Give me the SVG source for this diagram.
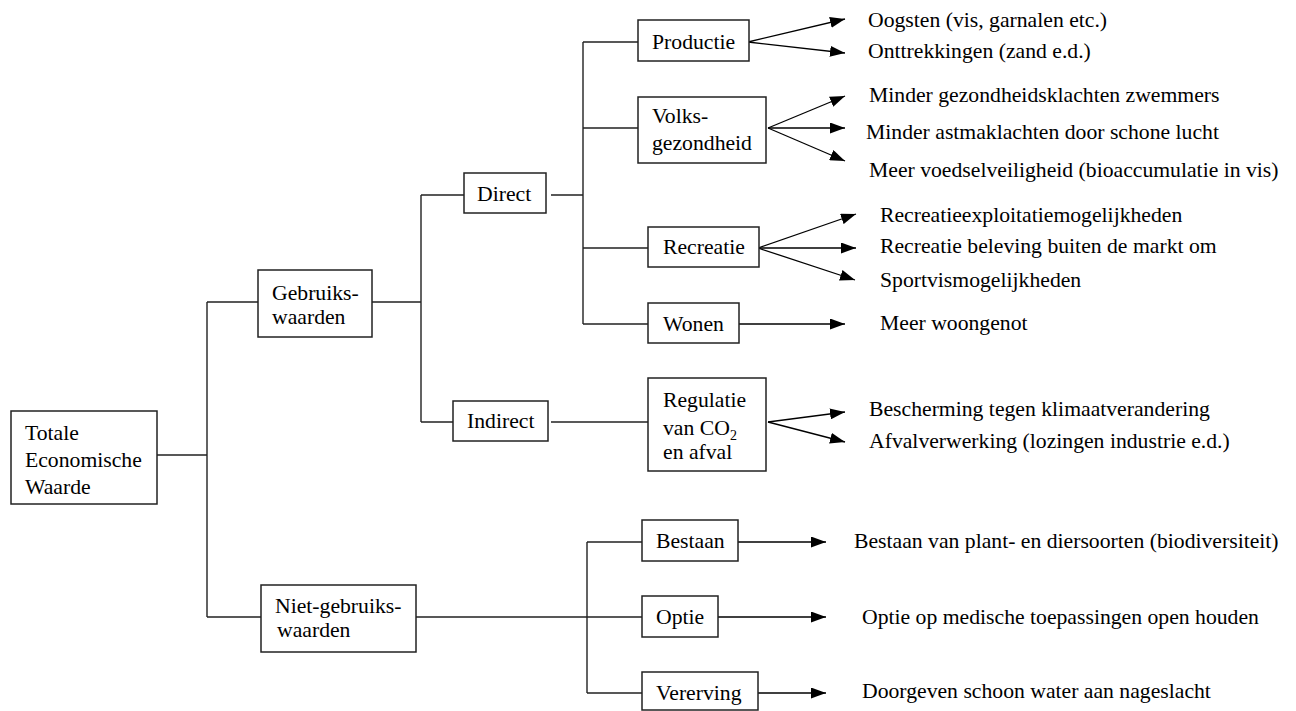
<svg xmlns="http://www.w3.org/2000/svg" width="1296" height="711" viewBox="0 0 1296 711">
<defs>
<marker id="ah" markerUnits="userSpaceOnUse" markerWidth="15" markerHeight="11" refX="15" refY="5.5" orient="auto">
<path d="M0,0 L15,5.5 L0,11 z" fill="#000"/>
</marker>
</defs>
<rect width="1296" height="711" fill="#fff"/>
<g id="connectors" fill="none" stroke="#222" stroke-width="1.4">
<path d="M152,455 H207 M207,302 V617 M207,302 H258 M207,617 H261"/>
<path d="M366,302 H421 M421,195 V422 M421,195 H464 M421,422 H453"/>
<path d="M551,195 H583 M583,42 V324 M583,42 H638 M583,128 H638 M583,248 H648 M583,324 H648"/>
<path d="M551,422 H648"/>
<path d="M413,617 H642 M587,542 V693 M587,542 H642 M587,693 H642"/>
<g stroke="#000" stroke-width="1.3" marker-end="url(#ah)">
<line x1="748" y1="42" x2="845" y2="19"/>
<line x1="748" y1="42" x2="845" y2="53"/>
<line x1="768" y1="128" x2="845" y2="96"/>
<line x1="768" y1="128" x2="845" y2="128"/>
<line x1="768" y1="128" x2="845" y2="161"/>
<line x1="758" y1="248" x2="856" y2="214"/>
<line x1="758" y1="248" x2="856" y2="248"/>
<line x1="758" y1="248" x2="855" y2="280"/>
<line x1="739" y1="324" x2="845" y2="324"/>
<line x1="768" y1="422" x2="845" y2="412"/>
<line x1="768" y1="422" x2="845" y2="442"/>
<line x1="738" y1="542" x2="826" y2="542"/>
<line x1="718" y1="617" x2="826" y2="617"/>
<line x1="758" y1="693" x2="826" y2="693"/>
</g>
</g>
<g fill="#fff" stroke="#222" stroke-width="1.5">
<rect id="r-totale" x="11" y="411" width="146" height="93"/>
<rect id="r-gebruik" x="258" y="270" width="114" height="67"/>
<rect id="r-niet" x="261" y="585" width="155" height="67"/>
<rect id="r-direct" x="464" y="173" width="82" height="40"/>
<rect id="r-indirect" x="453" y="401" width="95" height="40"/>
<rect id="r-productie" x="638" y="20" width="111" height="41"/>
<rect id="r-volks" x="638" y="97" width="128" height="66"/>
<rect id="r-recreatie" x="648" y="227" width="111" height="40"/>
<rect id="r-wonen" x="648" y="303" width="91" height="40"/>
<rect id="r-regulatie" x="648" y="378" width="118" height="93"/>
<rect id="r-bestaan" x="642" y="520" width="96" height="41"/>
<rect id="r-optie" x="642" y="596" width="76" height="41"/>
<rect id="r-vererving" x="642" y="672" width="116" height="38"/>
</g>
<g id="nodes" font-family="Liberation Serif" font-size="21.7" fill="#000">
<g id="n-totale"><text x="25" y="440">Totale</text><text x="25" y="467">Economische</text><text x="25" y="494">Waarde</text></g>
<g id="n-gebruik"><text x="272" y="300">Gebruiks-</text><text x="272" y="324">waarden</text></g>
<g id="n-niet"><text x="275" y="613">Niet-gebruiks-</text><text x="277" y="637">waarden</text></g>
<g id="n-direct"><text x="477" y="201">Direct</text></g>
<g id="n-indirect"><text x="467" y="428">Indirect</text></g>
<g id="n-productie"><text x="652" y="49">Productie</text></g>
<g id="n-volks"><text x="652" y="123">Volks-</text><text x="652" y="150">gezondheid</text></g>
<g id="n-recreatie"><text x="663" y="254">Recreatie</text></g>
<g id="n-wonen"><text x="663" y="331">Wonen</text></g>
<g id="n-regulatie"><text x="663" y="407">Regulatie</text><text x="663" y="435">van CO<tspan font-size="14" dy="5">2</tspan></text><text x="663" y="459">en afval</text></g>
<g id="n-bestaan"><text x="656" y="548">Bestaan</text></g>
<g id="n-optie"><text x="656" y="624">Optie</text></g>
<g id="n-vererving"><text x="656" y="700">Vererving</text></g>
</g>
<g id="labels" font-family="Liberation Serif" font-size="21.7" fill="#000">
<text x="868" y="27">Oogsten (vis, garnalen etc.)</text>
<text x="868" y="58">Onttrekkingen (zand e.d.)</text>
<text x="869" y="102">Minder gezondheidsklachten zwemmers</text>
<text x="866" y="139">Minder astmaklachten door schone lucht</text>
<text x="869" y="177">Meer voedselveiligheid (bioaccumulatie in vis)</text>
<text x="880" y="222">Recreatieexploitatiemogelijkheden</text>
<text x="880" y="253">Recreatie beleving buiten de markt om</text>
<text x="880" y="287">Sportvismogelijkheden</text>
<text x="880" y="330">Meer woongenot</text>
<text x="869" y="416">Bescherming tegen klimaatverandering</text>
<text x="869" y="448">Afvalverwerking (lozingen industrie e.d.)</text>
<text x="854" y="548">Bestaan van plant- en diersoorten (biodiversiteit)</text>
<text x="862" y="624">Optie op medische toepassingen open houden</text>
<text x="862" y="698">Doorgeven schoon water aan nageslacht</text>
</g>
</svg>
